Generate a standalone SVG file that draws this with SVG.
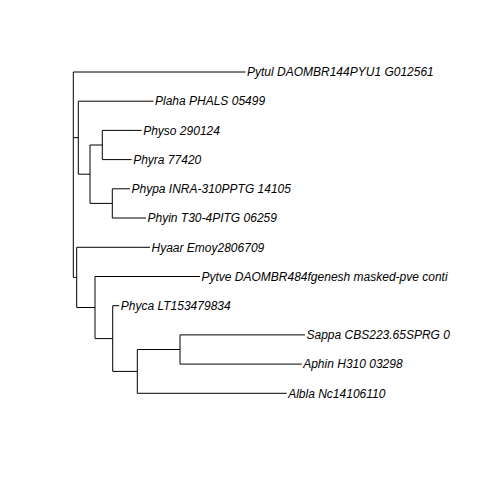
<svg xmlns="http://www.w3.org/2000/svg" width="480" height="480" viewBox="0 0 480 480">
  <style>
    .edge { fill: none; stroke: #000; stroke-width: 1; stroke-linecap: butt; }
    .tip { font-family: "Liberation Sans", Arial, sans-serif; font-style: italic; font-size: 12px; fill: #000; }
  </style>
  <defs>
    <clipPath id="plotArea"><rect x="0" y="0" width="452" height="480"/></clipPath>
  </defs>
  <rect width="480" height="480" fill="#fff"/>

  <!-- branches: horizontal edges to each child, vertical bar at each internal node -->
  <g id="connectors" class="edge">
    <!-- root -->
    <path d="M73.3 72 V277.4"/>
    <path d="M73.3 72 H245.5"/>
    <path d="M73.3 137.7 H78.3"/>
    <path d="M73.3 277.4 H76.7"/>
    <!-- Plaha + Phytophthora clade -->
    <path d="M78.3 101.2 V174.2"/>
    <path d="M78.3 101.2 H153.5"/>
    <path d="M78.3 174.2 H90"/>
    <path d="M90 145 V203.4"/>
    <path d="M90 145 H102.3"/>
    <path d="M90 203.4 H112.3"/>
    <path d="M102.3 130.4 V159.6"/>
    <path d="M102.3 130.4 H141.7"/>
    <path d="M102.3 159.6 H131.7"/>
    <path d="M112.3 188.8 V218"/>
    <path d="M112.3 188.8 H130"/>
    <path d="M112.3 218 H146"/>
    <!-- Hyaar + remaining clade -->
    <path d="M76.7 247.3 V307.5"/>
    <path d="M76.7 247.3 H150"/>
    <path d="M76.7 307.5 H95"/>
    <path d="M95 276.5 V338.6"/>
    <path d="M95 276.5 H200"/>
    <path d="M95 338.6 H112.7"/>
    <path d="M112.7 305.7 V371.4"/>
    <path d="M112.7 305.7 H119.3"/>
    <path d="M112.7 371.4 H137.3"/>
    <path d="M137.3 349.5 V393.3"/>
    <path d="M137.3 349.5 H180"/>
    <path d="M137.3 393.3 H286.7"/>
    <path d="M180 334.9 V364.1"/>
    <path d="M180 334.9 H305"/>
    <path d="M180 364.1 H301.7"/>
  </g>

  <!-- tip labels -->
  <g class="tip" clip-path="url(#plotArea)">
    <g id="tip-pytul"><text x="247" y="76.2">Pytul DAOMBR144PYU1 G012561</text></g>
    <g id="tip-plaha"><text x="155" y="105.4">Plaha PHALS 05499</text></g>
    <g id="tip-physo"><text x="143.2" y="134.6">Physo 290124</text></g>
    <g id="tip-phyra"><text x="133.2" y="163.8">Phyra 77420</text></g>
    <g id="tip-phypa"><text x="131.5" y="193">Phypa INRA-310PPTG 14105</text></g>
    <g id="tip-phyin"><text x="147.5" y="222.2">Phyin T30-4PITG 06259</text></g>
    <g id="tip-hyaar"><text x="151.5" y="251.5">Hyaar Emoy2806709</text></g>
    <g id="tip-pytve"><text x="201.5" y="280.7">Pytve DAOMBR484fgenesh masked-pve conti</text></g>
    <g id="tip-phyca"><text x="120.8" y="309.9">Phyca LT153479834</text></g>
    <g id="tip-sappa"><text x="306.5" y="339.1">Sappa CBS223.65SPRG 0</text></g>
    <g id="tip-aphin"><text x="303.2" y="368.3">Aphin H310 03298</text></g>
    <g id="tip-albla"><text x="288.2" y="397.5">Albla Nc14106110</text></g>
  </g>
</svg>
